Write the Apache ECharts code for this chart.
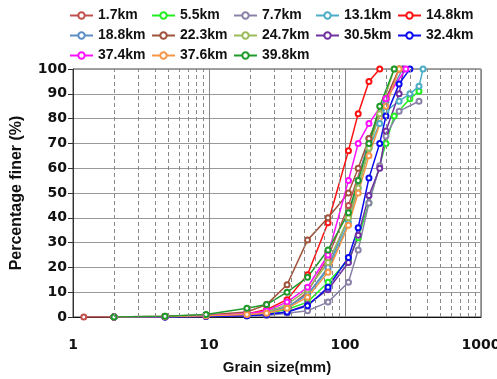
<!DOCTYPE html>
<html>
<head>
<meta charset="utf-8">
<script src="https://cdn.jsdelivr.net/npm/echarts@6/dist/echarts.min.js"></script>
<style>
  html, body { margin: 0; padding: 0; background: #fff; }
  #grainChart { width: 497px; height: 379px; }
</style>
</head>
<body>
<div id="grainChart"></div>
<script>
// distances along the river (legend)
var stations = ['1.7km', '5.5km', '7.7km', '13.1km', '14.8km',
                '18.8km', '22.3km', '24.7km', '30.5km', '32.4km',
                '37.4km', '37.6km', '39.8km'];
var colors = ['#C0504D', '#22EE22', '#8A80A8', '#4BACC6', '#FF1010',
              '#5B8EC4', '#A0523A', '#9BBB59', '#7030A0', '#0A0AF0',
              '#FF10FF', '#F79646', '#1E9A2A'];

// [grain size mm, percent finer]
var d1_7  = [[1.2,0],[2,0],[4.75,0.2],[9.5,0.5],[19,1],[26.5,1.5],[37.5,3.5],[53,10],[75,24],[106,45],[150,70],[200,88],[250,100]];
var d5_5  = [[2,0],[4.75,0.2],[9.5,0.5],[19,1],[26.5,1.5],[37.5,3],[53,6],[75,14],[106,23],[125,32],[150,46],[200,70],[230,81],[300,88],[350,91]];
var d7_7  = [[2,0],[4.75,0],[9.5,0.2],[19,0.4],[26.5,0.6],[37.5,1.5],[53,2.5],[75,6],[106,14],[125,27],[150,46],[180,61],[200,73],[250,83],[350,87]];
var d13_1 = [[2,0],[4.75,0.2],[9.5,0.5],[19,1],[26.5,2],[37.5,4],[53,9],[75,19],[106,38],[125,52],[150,68],[180,78],[200,83],[250,87],[300,90],[350,93],[375,100]];
var d14_8 = [[2,0],[4.75,0.2],[9.5,0.5],[19,1.2],[26.5,3],[37.5,7],[53,17],[75,38],[106,67],[125,82],[150,95],[180,100]];
var d18_8 = [[2,0],[4.75,0.2],[9.5,0.5],[19,1],[26.5,2],[37.5,4],[53,9],[75,20],[106,40],[125,55],[150,72],[200,87],[265,100]];
var d22_3 = [[2,0],[4.75,0.3],[9.5,0.8],[19,2],[26.5,5],[37.5,13],[53,31],[75,40],[106,50],[125,60],[150,72],[200,88],[250,100]];
var d24_7 = [[2,0],[4.75,0.2],[9.5,0.5],[19,1],[26.5,2],[37.5,5],[53,11],[75,22],[106,40],[125,52],[150,68],[180,82],[230,100]];
var d30_5 = [[2,0],[4.75,0],[9.5,0.3],[19,0.6],[26.5,1],[37.5,2],[53,5],[75,11],[106,22],[125,33],[150,49],[180,60],[200,75],[250,90],[270,100]];
var d32_4 = [[2,0],[4.75,0],[9.5,0.3],[19,0.5],[26.5,1],[37.5,2],[53,4.5],[75,12],[106,24],[125,36],[150,56],[180,70],[200,81],[250,94],[300,100]];
var d37_4 = [[2,0],[4.75,0.2],[9.5,0.6],[19,1.2],[26.5,2.5],[37.5,6],[53,12],[75,25],[106,55],[125,70],[150,78],[200,88],[280,100]];
var d37_6 = [[2,0],[4.75,0.2],[9.5,0.5],[19,1],[26.5,1.5],[37.5,3.5],[53,8],[75,18],[106,37],[125,50],[150,65],[200,85],[250,100]];
var d39_8 = [[2,0],[4.75,0.3],[9.5,1],[19,3.5],[26.5,5],[37.5,10],[53,16],[75,27],[106,42],[125,55],[150,70],[180,85],[230,100]];

var curves = [d1_7, d5_5, d7_7, d13_1, d14_8, d18_8, d22_3, d24_7, d30_5, d32_4, d37_4, d37_6, d39_8];

// dashed minor grid at 2..9, 20..90, 200..900
var minorLines = [];
[1, 10, 100].forEach(function (dec) {
  for (var k = 2; k <= 9; k++) minorLines.push({ xAxis: k * dec });
});

var series = stations.map(function (name, i) {
  return {
    name: name,
    type: 'line',
    data: curves[i],
    symbol: 'emptyCircle',
    symbolSize: 5,
    lineStyle: { width: 1.5, color: colors[i] },
    itemStyle: { color: colors[i], borderWidth: 0.8 },
    z: 3
  };
});
series.push({
  type: 'line',
  data: [],
  silent: true,
  markLine: {
    silent: true,
    symbol: 'none',
    label: { show: false },
    lineStyle: { type: [4, 3], color: '#888', width: 1 },
    data: minorLines
  }
});

var chart = echarts.init(document.getElementById('grainChart'));
chart.setOption({
  animation: false,
  color: colors,
  legend: {
    data: stations,
    left: 64,
    top: 3,
    width: 410,
    itemWidth: 23,
    itemHeight: 8,
    itemGap: 5,
    textStyle: { fontFamily: 'Liberation Sans', fontWeight: 'bold', fontSize: 14, color: '#111', width: 48, lineHeight: 15 }
  },
  grid: { left: 73, right: 16, top: 69, bottom: 62, show: true, borderColor: '#444', borderWidth: 1, outerBoundsMode: 'none', containLabel: false },
  xAxis: {
    type: 'log',
    logBase: 10,
    min: 1,
    max: 1000,
    name: 'Grain size(mm)',
    nameLocation: 'middle',
    nameGap: 43,
    nameTextStyle: { fontFamily: 'Liberation Sans', fontWeight: 'bold', fontSize: 15, color: '#111' },
    axisLine: { lineStyle: { color: '#111', width: 1 } },
    axisTick: { show: false },
    axisLabel: {
      margin: 21, fontFamily: 'DejaVu Sans', fontWeight: 'bold', fontSize: 14, color: '#111',
      formatter: function (v) { return String(Math.round(v)); }
    },
    splitLine: { show: true, lineStyle: { color: '#888', width: 1 } }
  },
  yAxis: {
    type: 'value',
    min: 0,
    max: 100,
    interval: 10,
    name: 'Percentage finer (%)',
    nameLocation: 'middle',
    nameGap: 48,
    nameTextStyle: { fontFamily: 'Liberation Sans', fontWeight: 'bold', fontSize: 16, color: '#111' },
    axisLine: { show: true, lineStyle: { color: '#333' } },
    axisTick: { show: true, length: 5, lineStyle: { color: '#333' } },
    axisLabel: { margin: 6, fontFamily: 'DejaVu Sans', fontWeight: 'bold', fontSize: 14, color: '#111' },
    splitLine: { lineStyle: { color: '#999', width: 1 } }
  },
  series: series
});
</script>
</body>
</html>
